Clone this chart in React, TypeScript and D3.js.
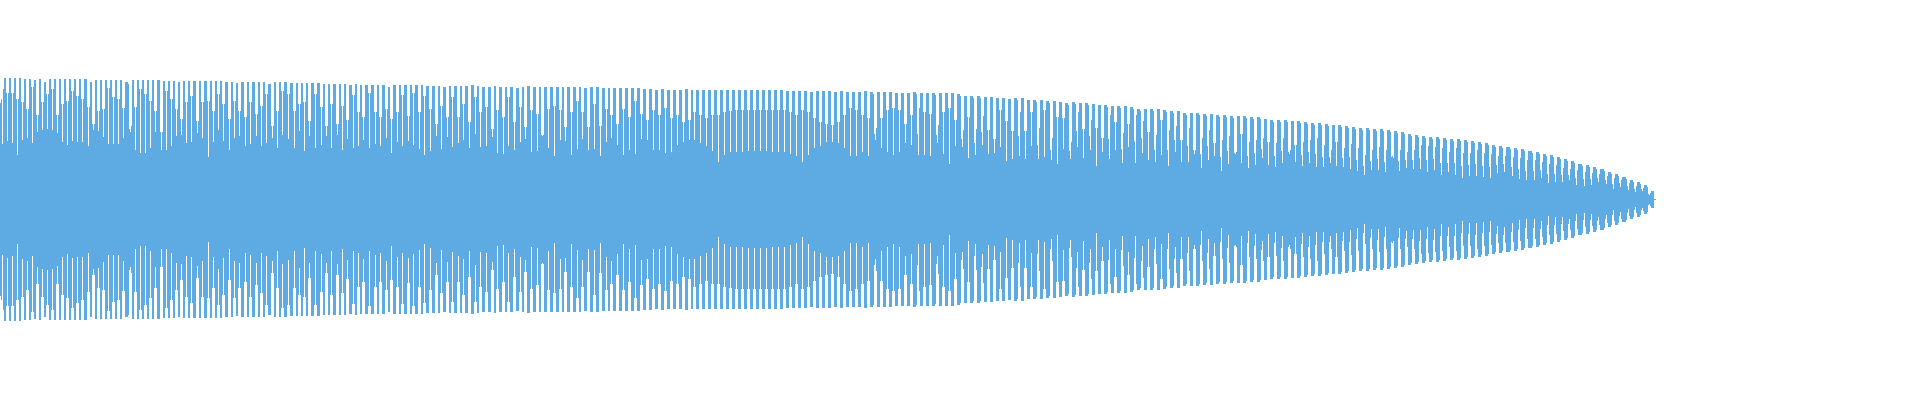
import React from 'react';
import * as d3 from 'd3';

const WIDTH = 1920;
const HEIGHT = 400;

// one entry per waveform cycle. amplitudes are mirrored around zero
const cycleStarts = [
  0,
  2, 7, 12, 17, 22, 27, 32, 37, 42, 47, 52, 57, 62, 67, 72, 77, 82, 88, 93, 98,
  103, 108, 113, 118, 123, 130, 135, 140, 145, 150, 155, 161, 166, 171, 176, 181, 186, 191, 197, 202,
  208, 213, 218, 223, 229, 234, 239, 245, 250, 256, 261, 266, 272, 277, 282, 288, 294, 299, 304, 309, 315,
  321, 326, 331, 337, 342, 347, 353, 358, 363, 369, 375, 380, 386, 391, 397, 402, 408, 413, 419, 424,
  430, 436, 441, 447, 452, 458, 463, 469, 475, 480, 486, 492, 497, 503, 508, 514, 520, 525, 531, 537,
  542, 548, 554, 560, 565, 571, 577, 582, 588, 594, 600, 606, 611, 617, 623, 629, 635,
  641, 647, 653, 659, 665, 671, 677, 683, 689, 694, 700, 706, 712, 718, 724, 730, 736, 742, 748, 754,
  760, 766, 772, 778, 784, 790, 796, 802, 808, 814, 820, 826, 832, 838, 844, 850, 856, 862, 868, 875,
  881, 887, 893, 899, 905, 911, 918, 924, 930, 937, 943, 949, 955,
  962, 968, 975, 982, 988, 994, 1000, 1006, 1012, 1019, 1025, 1031, 1038, 1044, 1051, 1057, 1063, 1070, 1077, 1083,
  1090, 1096, 1102, 1109, 1115, 1122, 1128, 1135, 1142, 1148, 1155, 1161, 1168, 1175,
  1181, 1188, 1194, 1201, 1208, 1214, 1221, 1228, 1235, 1241, 1248, 1255, 1262, 1268, 1275, 1282, 1289, 1295, 1302, 1309,
  1316, 1323, 1330, 1336, 1343, 1350, 1357, 1364, 1371, 1378, 1385, 1392, 1399, 1406, 1413,
  1420, 1427, 1434, 1441, 1448, 1455, 1462, 1469, 1476, 1483, 1490, 1497, 1504, 1512, 1519, 1526,
  1534, 1541, 1548, 1555, 1562, 1569, 1576, 1584, 1591, 1598, 1606, 1613, 1620, 1628, 1635, 1642, 1649,
  1655,
];
const endTime = 1656;

// deepest point between two cycles
const troughs = [
  97,
  56, 59, 57, 45, 60, 62, 57, 68, 70, 71, 70, 67, 58, 55, 59, 58, 58, 54, 70, 69,
  63, 56, 56, 56, 62, 68, 50, 47, 47, 52, 68, 50, 50, 54, 64, 65, 57, 58, 67, 62,
  43, 58, 70, 59, 50, 62, 64, 54, 56, 64, 54, 57, 62, 52, 65, 61, 52, 69, 49, 64, 52,
  55, 64, 52, 65, 50, 61, 52, 54, 60, 52, 56, 54, 62, 47, 58, 54, 59, 55, 51, 45,
  49, 64, 51, 63, 53, 57, 60, 52, 66, 53, 54, 63, 47, 46, 54, 50, 58, 61, 48, 49,
  64, 52, 44, 60, 59, 45, 51, 61, 50, 51, 44, 58, 62, 55, 45, 50, 46,
  61, 60, 50, 50, 47, 48, 55, 58, 60, 60, 57, 54, 49, 38, 45, 48, 48, 48, 49, 49,
  49, 49, 48, 48, 48, 46, 44, 38, 45, 52, 54, 58, 58, 57, 52, 44, 44, 48, 44, 60,
  52, 48, 45, 48, 57, 55, 45, 45, 44, 57, 46, 36, 54,
  53, 42, 45, 55, 46, 47, 53, 39, 41, 44, 41, 54, 41, 43, 40, 36, 51, 41, 53, 42,
  50, 34, 48, 41, 50, 37, 53, 37, 47, 40, 38, 45, 34, 48,
  38, 38, 46, 32, 40, 44, 29, 36, 46, 37, 32, 35, 42, 35, 33, 37, 46, 38, 34, 37,
  33, 33, 37, 34, 33, 31, 29, 25, 30, 30, 28, 44, 29, 32, 31,
  31, 28, 30, 25, 28, 25, 22, 24, 24, 23, 22, 27, 28, 24, 21, 20,
  20, 22, 17, 18, 18, 20, 15, 14, 15, 18, 16, 11, 13, 10, 8, 9, 5,
  1,
];

// level of the step on each side of a trough
const shoulders = [
  101,
  111, 107, 107, 101, 98, 91, 113, 85, 98, 106, 111, 85, 96, 99, 109, 104, 101, 93, 76, 89,
  91, 112, 103, 101, 92, 74, 93, 111, 106, 99, 89, 68, 109, 101, 91, 81, 98, 104, 79, 98,
  99, 89, 106, 96, 81, 99, 89, 83, 98, 86, 94, 106, 74, 89, 109, 106, 89, 96, 98, 79, 106,
  93, 74, 96, 76, 94, 80, 105, 88, 83, 107, 88, 83, 91, 81, 88, 105, 84, 107, 88, 104,
  91, 76, 94, 83, 103, 83, 96, 78, 103, 88, 93, 71, 90, 83, 103, 78, 93, 73, 90, 86,
  65, 91, 94, 90, 73, 88, 99, 88, 73, 96, 74, 91, 85, 76, 91, 83, 99,
  86, 80, 90, 85, 92, 82, 85, 78, 80, 88, 85, 82, 85, 85, 88, 89, 90, 90, 90, 90,
  90, 90, 90, 90, 90, 88, 85, 90, 88, 82, 78, 76, 75, 78, 85, 92, 90, 85, 82, 72,
  82, 90, 92, 90, 76, 85, 92, 88, 86, 75, 88, 92, 80,
  70, 83, 71, 84, 70, 61, 90, 79, 69, 88, 69, 88, 72, 90, 62, 83, 82, 58, 88, 71,
  80, 72, 62, 85, 78, 67, 76, 85, 79, 68, 65, 80, 70, 74,
  60, 72, 50, 62, 70, 57, 60, 64, 48, 66, 58, 60, 62, 58, 57, 62, 50, 55, 58, 60,
  62, 55, 50, 58, 52, 56, 52, 45, 50, 53, 50, 42, 50, 48, 50,
  55, 54, 53, 52, 48, 52, 47, 47, 50, 47, 46, 44, 44, 43, 42, 40,
  40, 38, 36, 35, 32, 31, 30, 28, 27, 26, 24, 22, 20, 17, 14, 12, 7,
  1,
];

// top of each cycle
const peaks = [
  122,
  122, 122, 122, 122, 121, 121, 120, 121, 118, 121, 121, 121, 121, 121, 121, 121, 121, 118, 120, 120,
  120, 120, 120, 120, 118, 120, 120, 120, 120, 120, 120, 119, 119, 119, 118, 119, 119, 119, 119, 119,
  119, 119, 119, 118, 118, 117, 118, 118, 118, 118, 118, 116, 118, 118, 118, 117, 117, 117, 117, 117, 117,
  116, 116, 116, 116, 116, 115, 116, 115, 115, 115, 115, 115, 113, 115, 115, 115, 115, 115, 115, 114,
  114, 114, 113, 114, 114, 114, 114, 115, 114, 113, 113, 114, 113, 113, 113, 112, 113, 114, 113, 113,
  113, 113, 113, 113, 113, 113, 113, 112, 113, 113, 112, 112, 112, 112, 112, 112, 112,
  111, 111, 110, 111, 110, 110, 110, 111, 110, 110, 110, 110, 110, 110, 110, 110, 110, 110, 110, 110,
  110, 110, 110, 110, 109, 109, 109, 109, 108, 109, 109, 109, 108, 109, 108, 108, 108, 109, 108, 108,
  108, 108, 107, 107, 107, 108, 107, 107, 107, 107, 107, 107, 106,
  104, 104, 104, 103, 103, 102, 102, 101, 102, 102, 100, 100, 100, 99, 99, 98, 97, 98, 97, 97,
  96, 95, 95, 94, 94, 94, 93, 91, 91, 91, 91, 90, 89, 89,
  87, 87, 87, 86, 86, 85, 85, 84, 84, 84, 83, 83, 81, 80, 80, 80, 79, 79, 78, 77,
  77, 76, 75, 75, 74, 73, 72, 72, 71, 71, 70, 69, 68, 66, 65,
  64, 63, 63, 62, 61, 61, 60, 59, 58, 57, 55, 54, 53, 52, 51, 49,
  48, 46, 45, 43, 41, 39, 36, 35, 33, 31, 28, 26, 23, 20, 18, 15, 9,
  1,
];

// expand the cycles into one amplitude per pixel column
function buildColumns() {
  const cols: { t: number; amp: number }[] = [];
  cycleStarts.forEach((start, i) => {
    const next = i + 1 < cycleStarts.length ? cycleStarts[i + 1] : endTime;
    const w = next - start;
    for (let j = 0; j < w; j++) {
      let amp = peaks[i];
      if (j === 0) amp = troughs[i];
      else if (j === 1) amp = shoulders[i];
      else if (w >= 7 && j === w - 1) amp = troughs[i + 1] + (shoulders[i + 1] - troughs[i + 1]) * 0.45;
      else if (w >= 7 && j === w - 2) amp = peaks[i] - 2;
      else if (j === w - 1) amp = shoulders[i + 1] ?? peaks[i];
      cols.push({ t: start + j, amp });
    }
  });
  cols.push({ t: endTime, amp: 0 });
  return cols;
}

export default function App() {
  const x = d3.scaleLinear().domain([0, WIDTH]).range([0, WIDTH]);
  const y = d3.scaleLinear().domain([-122, 122]).range([321, 78]);

  const area = d3.area<{ t: number; amp: number }>()
    .x(d => x(d.t))
    .y0(d => y(-d.amp))
    .y1(d => y(d.amp))
    .curve(d3.curveStepAfter);

  return (
    <svg
      width={WIDTH}
      height={HEIGHT}
      style={{ position: 'absolute', left: 0, top: 0, display: 'block', background: '#fff' }}
    >
      <path d={area(buildColumns()) || ''} fill="#5dabe2" shapeRendering="crispEdges" />
    </svg>
  );
}
